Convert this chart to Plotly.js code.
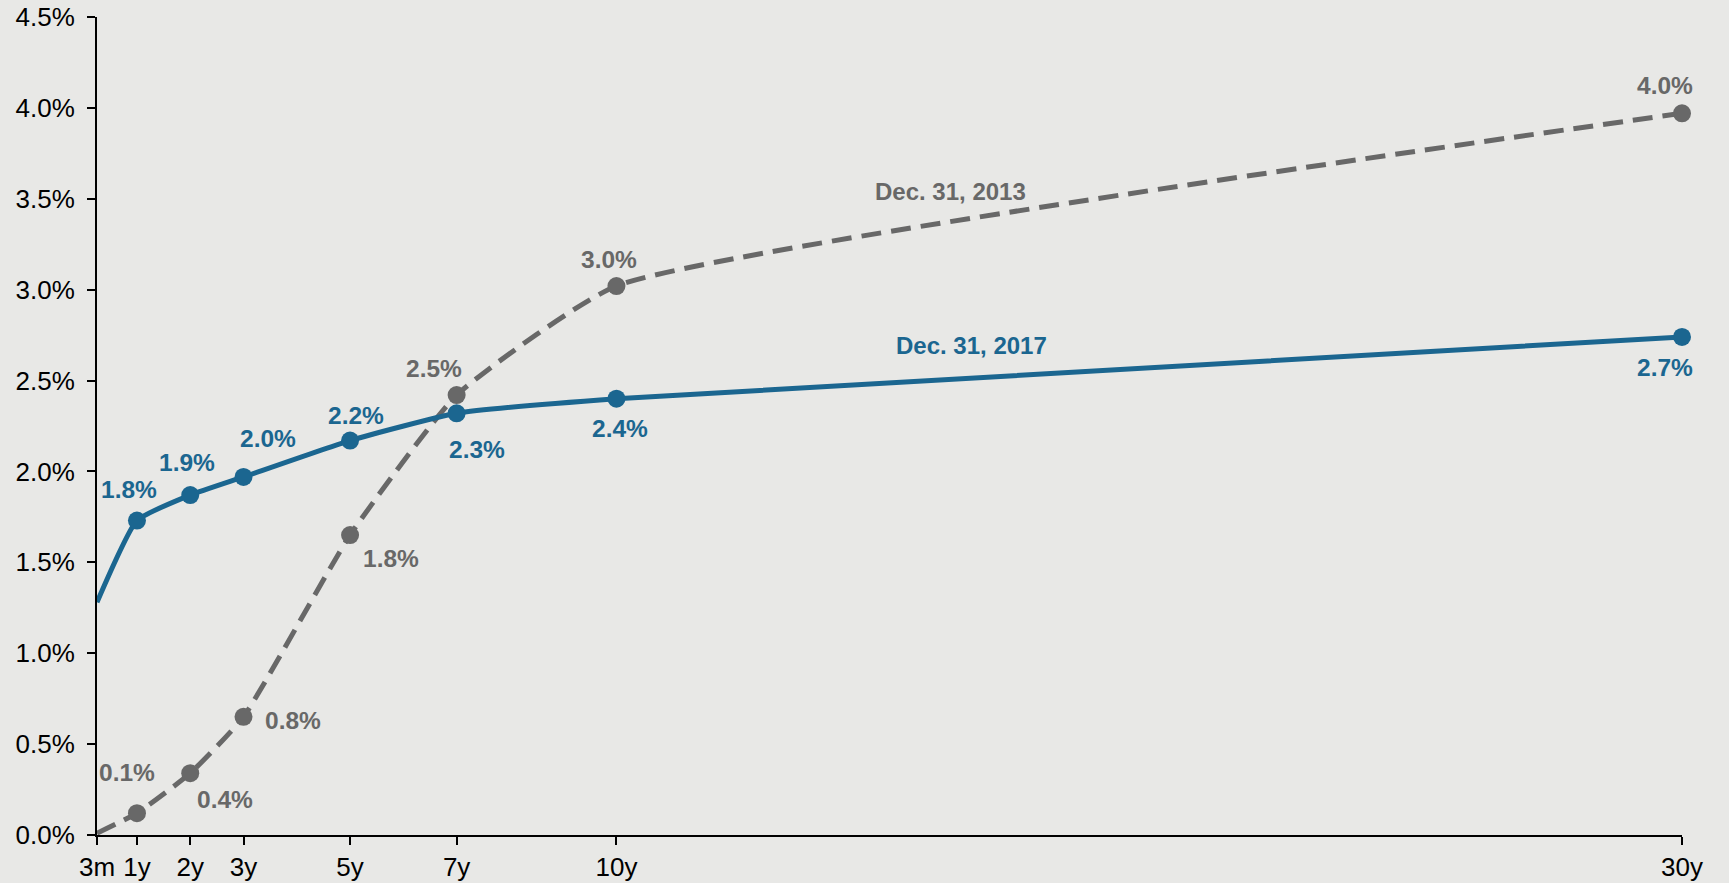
<!DOCTYPE html>
<html>
<head>
<meta charset="utf-8">
<script src="https://cdn.plot.ly/plotly-3.0.1.min.js"></script>
<style>
  html, body { margin: 0; padding: 0; background: #e8e8e6; }
  #chart { width: 1729px; height: 883px; }
</style>
</head>
<body>
<div id="chart"></div>
<script>
// ---- data ----
const maturities = [0.25, 1, 2, 3, 5, 7, 10, 30];
const tickLabels = ['3m', '1y', '2y', '3y', '5y', '7y', '10y', '30y'];
const yields2017 = [1.28, 1.73, 1.87, 1.97, 2.17, 2.32, 2.40, 2.74];
const yields2013 = [0.01, 0.12, 0.34, 0.65, 1.65, 2.42, 3.02, 3.97];
const labels2017 = [null, '1.8%', '1.9%', '2.0%', '2.2%', '2.3%', '2.4%', '2.7%'];
const labels2013 = [null, '0.1%', '0.4%', '0.8%', '1.8%', '2.5%', '3.0%', '4.0%'];
const seriesNames = ['Dec. 31, 2013', 'Dec. 31, 2017'];

// ---- styles ----
const BLUE = '#1b6690';
const GREY = '#686868';
const BG = '#e8e8e6';
const FONT = 'Liberation Sans, Arial, sans-serif';
// label offsets in px [dx, dy] (dy positive = down)
const off2017 = [null, [-8, -31], [-3, -33], [24, -38], [6, -25], [20, 36], [4, 30], [-17, 31]];
const off2013 = [null, [-10, -41], [35, 26], [49, 4], [41, 23], [-23, -27], [-7, -27], [-17, -28]];

const markerSizes = maturities.map((m, i) => (i === 0 ? 0 : 18));

const traces = [
  {
    x: maturities, y: yields2013, type: 'scatter', mode: 'lines+markers',
    name: seriesNames[0],
    line: { color: GREY, width: 5, dash: '20px,10px', shape: 'spline', smoothing: 0.45 },
    marker: { color: GREY, size: markerSizes, opacity: 1, line: { width: 0 } },
    hoverinfo: 'skip', cliponaxis: false
  },
  {
    x: maturities, y: yields2017, type: 'scatter', mode: 'lines+markers',
    name: seriesNames[1],
    line: { color: BLUE, width: 5, shape: 'spline', smoothing: 0.45 },
    marker: { color: BLUE, size: markerSizes, opacity: 1, line: { width: 0 } },
    hoverinfo: 'skip', cliponaxis: false
  }
];

const annotations = [];
function addLabels(vals, labels, offs, color) {
  vals.forEach((v, i) => {
    if (!labels[i]) return;
    annotations.push({
      x: maturities[i], y: v, xref: 'x', yref: 'y', text: labels[i],
      showarrow: false, xanchor: 'center', yanchor: 'middle',
      xshift: offs[i][0], yshift: -offs[i][1],
      font: { family: FONT, size: 24.5, color: color, weight: 'bold' }
    });
  });
}
addLabels(yields2013, labels2013, off2013, GREY);
addLabels(yields2017, labels2017, off2017, BLUE);

annotations.push({
  x: 16.27, y: 3.54, xref: 'x', yref: 'y', text: seriesNames[0], showarrow: false,
  xanchor: 'center', yanchor: 'middle',
  font: { family: FONT, size: 24, color: GREY, weight: 'bold' }
});
annotations.push({
  x: 16.67, y: 2.695, xref: 'x', yref: 'y', text: seriesNames[1], showarrow: false,
  xanchor: 'center', yanchor: 'middle',
  font: { family: FONT, size: 24, color: BLUE, weight: 'bold' }
});

const yTicks = [0, 0.5, 1, 1.5, 2, 2.5, 3, 3.5, 4, 4.5];

const layout = {
  width: 1729, height: 883,
  paper_bgcolor: BG, plot_bgcolor: BG,
  margin: { l: 97, r: 47, t: 17, b: 47.5 },
  showlegend: false,
  font: { family: FONT, size: 26, color: '#000' },
  xaxis: {
    type: 'linear', range: [0.25, 30],
    tickmode: 'array', tickvals: maturities, ticktext: tickLabels,
    showgrid: false, zeroline: false,
    showline: true, linecolor: '#000', linewidth: 2,
    ticks: 'outside', ticklen: 8, tickwidth: 2, tickcolor: '#000',
    tickfont: { family: FONT, size: 26, color: '#000' },
    fixedrange: true
  },
  yaxis: {
    range: [0, 4.5],
    tickmode: 'array', tickvals: yTicks,
    ticktext: yTicks.map(v => v.toFixed(1) + '%'),
    showgrid: false, zeroline: false,
    showline: true, linecolor: '#000', linewidth: 2,
    ticks: 'outside', ticklen: 8, tickwidth: 2, tickcolor: '#000',
    ticklabelstandoff: 7,
    tickfont: { family: FONT, size: 26, color: '#000' },
    fixedrange: true
  },
  annotations: annotations
};

Plotly.newPlot('chart', traces, layout, { displayModeBar: false, staticPlot: true });
</script>
</body>
</html>
